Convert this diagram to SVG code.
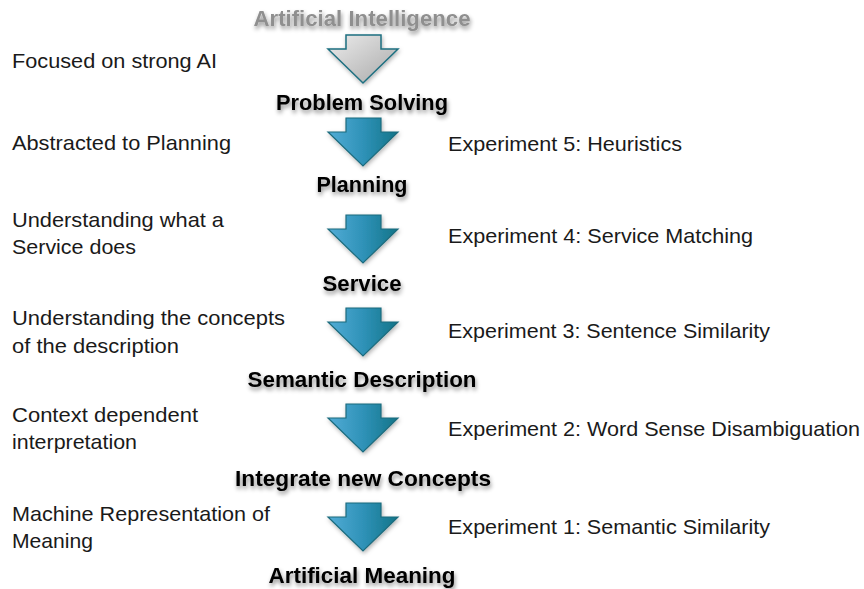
<svg xmlns="http://www.w3.org/2000/svg" width="864" height="589" viewBox="0 0 864 589">
<defs>
<linearGradient id="blue" x1="0" y1="0" x2="1" y2="0">
<stop offset="0" stop-color="#52acd6"/>
<stop offset="0.5" stop-color="#2f92b8"/>
<stop offset="1" stop-color="#137488"/>
</linearGradient>
<linearGradient id="grey" x1="0" y1="0" x2="1" y2="1">
<stop offset="0" stop-color="#ececec"/>
<stop offset="1" stop-color="#a9a9a9"/>
</linearGradient>
<filter id="tshadow" x="-10%" y="-30%" width="120%" height="180%">
<feDropShadow dx="1" dy="3" stdDeviation="2" flood-color="#000" flood-opacity="0.45"/>
</filter>
<filter id="ashadow" x="-20%" y="-20%" width="140%" height="150%">
<feDropShadow dx="1" dy="2" stdDeviation="2" flood-color="#000" flood-opacity="0.3"/>
</filter>
<path id="arrow" d="M346,0 H381 V14 H398 L363,48 L328,14 H346 Z"/>
</defs>
<style>
.h{font-family:"Liberation Sans",Arial,sans-serif;font-weight:bold;font-size:21.5px;fill:#000;text-anchor:middle;filter:url(#tshadow)}
.t{font-family:"Liberation Sans",Arial,sans-serif;font-size:21px;fill:#1a1a1a}
.ab{fill:url(#blue);stroke:#1b6b7d;stroke-width:1.2;filter:url(#ashadow)}
.ag{fill:url(#grey);stroke:#1e6f80;stroke-width:1.5;filter:url(#ashadow)}
</style>
<g id="connectors">
<use href="#arrow" class="ag" transform="translate(0,35)"/>
<use href="#arrow" class="ab" transform="translate(0,118)"/>
<use href="#arrow" class="ab" transform="translate(0,215)"/>
<use href="#arrow" class="ab" transform="translate(0,308)"/>
<use href="#arrow" class="ab" transform="translate(0,404)"/>
<use href="#arrow" class="ab" transform="translate(0,503)"/>
</g>
<g id="n-ai"><text class="h" x="362" y="26" fill="#8a8a8a" style="fill:#8f8f8f" textLength="217" lengthAdjust="spacingAndGlyphs">Artificial Intelligence</text></g>
<g id="n-problem"><text class="h" x="362" y="110" textLength="172" lengthAdjust="spacingAndGlyphs">Problem Solving</text></g>
<g id="n-planning"><text class="h" x="362" y="192" textLength="91" lengthAdjust="spacingAndGlyphs">Planning</text></g>
<g id="n-service"><text class="h" x="362" y="291" textLength="79" lengthAdjust="spacingAndGlyphs">Service</text></g>
<g id="n-semantic"><text class="h" x="362" y="387" textLength="229" lengthAdjust="spacingAndGlyphs">Semantic Description</text></g>
<g id="n-integrate"><text class="h" x="363" y="486" textLength="256" lengthAdjust="spacingAndGlyphs">Integrate new Concepts</text></g>
<g id="n-meaning"><text class="h" x="362" y="583" textLength="187" lengthAdjust="spacingAndGlyphs">Artificial Meaning</text></g>
<g id="left-labels">
<text class="t" x="12" y="68" textLength="205" lengthAdjust="spacingAndGlyphs">Focused on strong AI</text>
<text class="t" x="12" y="150" textLength="219" lengthAdjust="spacingAndGlyphs">Abstracted to Planning</text>
<text class="t" x="12" y="227" textLength="212" lengthAdjust="spacingAndGlyphs">Understanding what a</text>
<text class="t" x="12" y="254" textLength="124" lengthAdjust="spacingAndGlyphs">Service does</text>
<text class="t" x="12" y="325" textLength="273" lengthAdjust="spacingAndGlyphs">Understanding the concepts</text>
<text class="t" x="12" y="353" textLength="167" lengthAdjust="spacingAndGlyphs">of the description</text>
<text class="t" x="12" y="422" textLength="186" lengthAdjust="spacingAndGlyphs">Context dependent</text>
<text class="t" x="12" y="449" textLength="125" lengthAdjust="spacingAndGlyphs">interpretation</text>
<text class="t" x="12" y="521" textLength="258" lengthAdjust="spacingAndGlyphs">Machine Representation of</text>
<text class="t" x="12" y="548" textLength="81" lengthAdjust="spacingAndGlyphs">Meaning</text>
</g>
<g id="right-labels">
<text class="t" x="448" y="151" textLength="234" lengthAdjust="spacingAndGlyphs">Experiment 5: Heuristics</text>
<text class="t" x="448" y="243" textLength="305" lengthAdjust="spacingAndGlyphs">Experiment 4: Service Matching</text>
<text class="t" x="448" y="338" textLength="322" lengthAdjust="spacingAndGlyphs">Experiment 3: Sentence Similarity</text>
<text class="t" x="448" y="436" textLength="412" lengthAdjust="spacingAndGlyphs">Experiment 2: Word Sense Disambiguation</text>
<text class="t" x="448" y="534" textLength="322" lengthAdjust="spacingAndGlyphs">Experiment 1: Semantic Similarity</text>
</g>
</svg>
